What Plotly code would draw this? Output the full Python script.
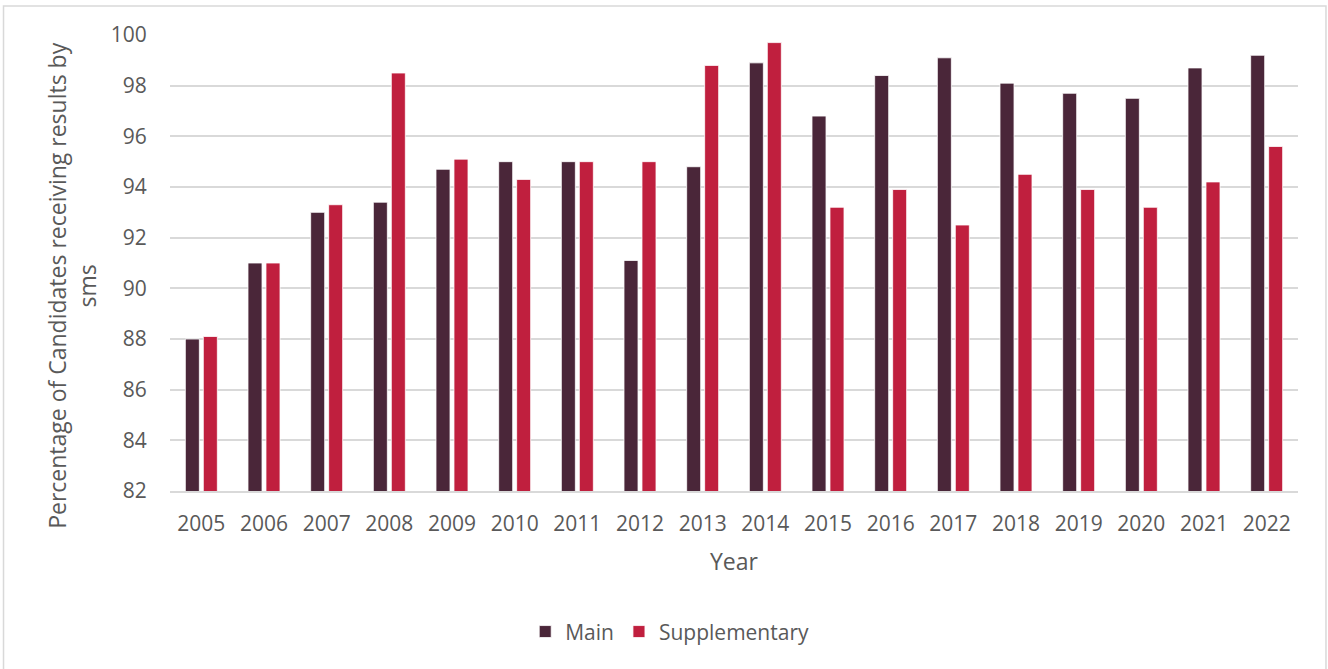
import plotly.graph_objects as go

years = [str(y) for y in range(2005, 2023)]
main = [88.0, 91.0, 93.0, 93.4, 94.7, 95.0, 95.0, 91.1, 94.8, 98.9,
        96.8, 98.4, 99.1, 98.1, 97.7, 97.5, 98.7, 99.2]
supplementary = [88.1, 91.0, 93.3, 98.5, 95.1, 94.3, 95.0, 95.0, 98.8, 99.7,
                 93.2, 93.9, 92.5, 94.5, 93.9, 93.2, 94.2, 95.6]
y_ticks = list(range(82, 101, 2))

font_family = "Open Sans, Noto Sans, sans-serif"
text_grey = "#595959"

fig = go.Figure()
fig.add_trace(go.Bar(
    x=years, y=main, name="Main",
    marker=dict(color="#4A2639", line=dict(color="white", width=0.8)),
))
fig.add_trace(go.Bar(
    x=years, y=supplementary, name="Supplementary",
    marker=dict(color="#C01F3E", line=dict(color="white", width=0.8)),
))

# light outer frame like the exported chart (bottom edge runs off the page)
fig.add_shape(
    type="rect", xref="paper", yref="paper",
    x0=-0.1476, x1=1.0248, y0=-0.42, y1=1.0636,
    line=dict(color="#d9d9d9", width=1.5), layer="below",
)

# y title as an annotation: the original sits a bit lower than the plot centre
fig.add_annotation(
    xref="paper", yref="paper", x=-0.0869, y=0.452,
    xanchor="center", yanchor="middle", textangle=-90,
    text="Percentage of Candidates receiving results by<br>sms",
    showarrow=False, font=dict(size=23, color=text_grey),
)

fig.update_layout(
    width=1328, height=669,
    margin=dict(l=170, r=30, t=35, b=178),
    plot_bgcolor="white", paper_bgcolor="white",
    barmode="group", bargap=0.426, bargroupgap=0.22,
    font=dict(family=font_family, color=text_grey, size=21),
    xaxis=dict(
        title=dict(text="Year", font=dict(size=23, color=text_grey), standoff=18),
        showline=True, linecolor="#d9d9d9", linewidth=1.5,
        ticks="outside", ticklen=13, tickcolor="rgba(0,0,0,0)",
        tickfont=dict(size=21, color=text_grey),
    ),
    yaxis=dict(
        range=[82, 100], tickvals=y_ticks,
        showgrid=True, gridcolor="#d9d9d9", gridwidth=1.5,
        zeroline=False,
        ticks="outside", ticklen=18, tickcolor="rgba(0,0,0,0)",
        tickfont=dict(size=21, color=text_grey),
    ),
    legend=dict(
        orientation="h", x=0.443, y=-0.309, xanchor="center", yanchor="middle",
        font=dict(size=21, color=text_grey), itemwidth=30,
    ),
)

# page opens with the browser's default body margin; drop it so the chart sits at 0,0
fig.write_html("out.html", config={"displayModeBar": False},
               post_script="document.body.style.margin='0';")
